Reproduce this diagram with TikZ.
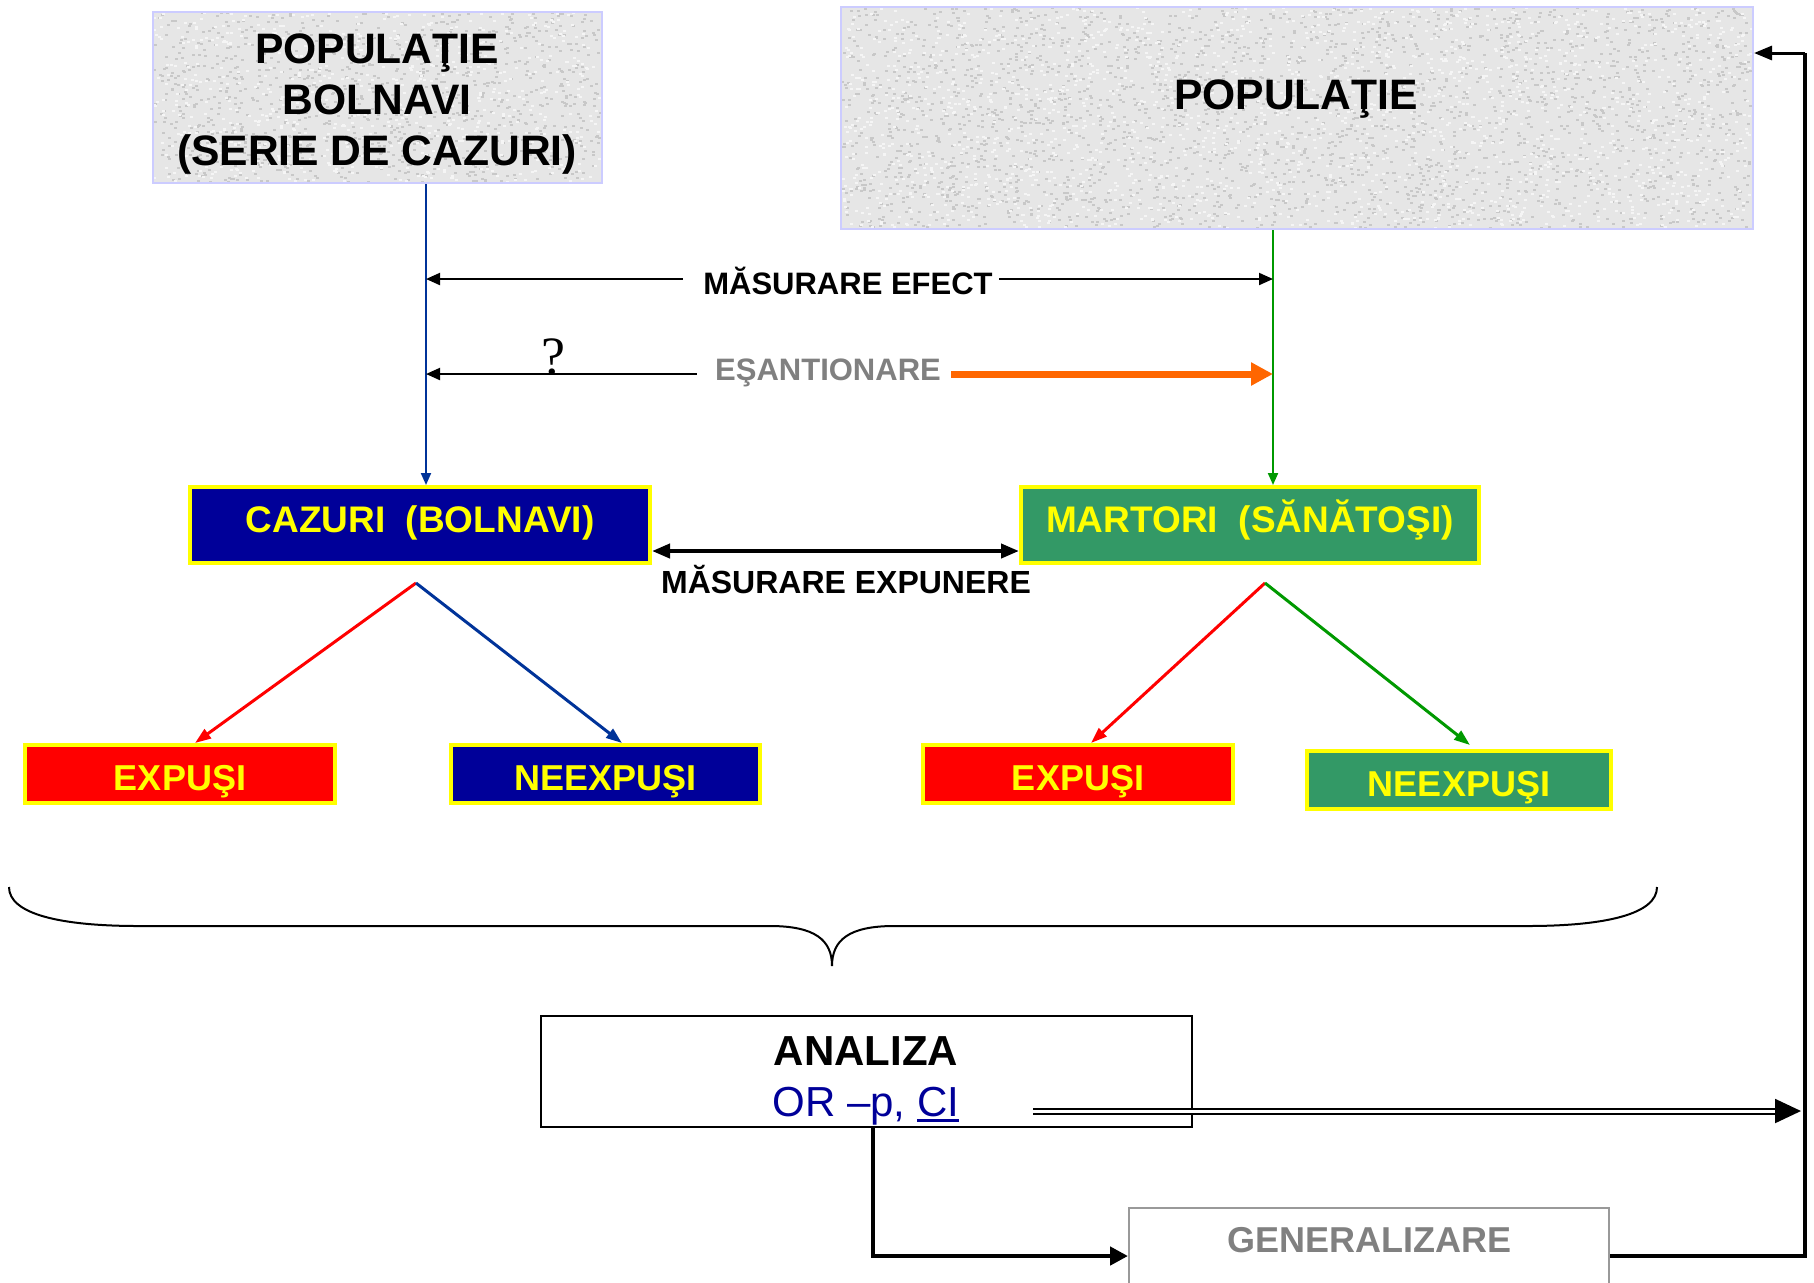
\documentclass[tikz,border=0pt]{standalone}
\usepackage{fontspec}
\setmainfont{Liberation Sans}
\newfontfamily\qfont{Liberation Serif}
\usetikzlibrary{arrows.meta,calc}

\definecolor{cazblue}{RGB}{0,0,153}
\definecolor{lineblue}{RGB}{0,51,153}
\definecolor{martgreen}{RGB}{51,153,102}
\definecolor{linegreen}{RGB}{0,153,0}
\definecolor{hiyellow}{RGB}{255,255,0}
\definecolor{sampleorange}{RGB}{255,102,0}
\definecolor{softgray}{RGB}{128,128,128}
\definecolor{popedge}{RGB}{204,204,255}
\definecolor{popfill}{RGB}{230,230,230}
\definecolor{popspeck}{RGB}{200,200,200}
\definecolor{poplight}{RGB}{245,245,245}
\definecolor{genedge}{RGB}{153,153,153}

% thick underline for the CI link
\newcommand\ciline[1]{\setbox0\hbox{#1}\rlap{\rule[-3pt]{\wd0}{1.6pt}}\box0}

\tikzset{
  popbox/.style={draw=popedge, line width=1pt, inner sep=0pt},
  poptext/.style={font=\bfseries\fontsize{21.3}{25.3}\selectfont, align=center, inner sep=0pt},
  hibox/.style={draw=hiyellow, line width=2pt, text=hiyellow, inner sep=0pt,
                font=\bfseries\fontsize{18.5}{22}\selectfont,
                text height=13pt, text depth=5.6pt},
  smallbox/.style={draw=hiyellow, line width=2pt, text=hiyellow, inner sep=0pt,
                font=\bfseries\fontsize{18}{22}\selectfont,
                text height=17pt, text depth=0.6pt},
  midlabel/.style={font=\bfseries\fontsize{15.5}{18}\selectfont, inner sep=0pt},
  arrowtip/.style={-{Triangle[length=7pt,width=6pt]}},
  diag/.style={line width=1.5pt, -{Triangle[length=8pt,width=5.5pt]}},
  flow/.style={line width=2.25pt},
}

\begin{document}
\begin{tikzpicture}[x=0.5pt,y=-0.5pt]
\useasboundingbox (0,0) rectangle (1814,1282);

% granite-like fill of the two population boxes
\pgfmathsetseed{4242}
\fill[popfill] (153,12) rectangle (602,183);
\foreach \i in {1,...,1000} \fill[popspeck] ({153+446*rnd},{12+169*rnd}) rectangle ++(3,2);
\foreach \i in {1,...,700} \fill[poplight] ({153+446*rnd},{12+169*rnd}) rectangle ++(3,2);
\fill[popfill] (841,7) rectangle (1753,229);
\foreach \i in {1,...,2600} \fill[popspeck] ({841+909*rnd},{7+220*rnd}) rectangle ++(3,2);
\foreach \i in {1,...,1900} \fill[poplight] ({841+909*rnd},{7+220*rnd}) rectangle ++(3,2);

% population boxes
\node[popbox, minimum width=224.5pt, minimum height=85.5pt] (pop1) at (377.5,97.5) {};
\node[poptext] (pop1label) at (377,104) {POPULAŢIE\\BOLNAVI\\(SERIE DE CAZURI)};
\node[popbox, minimum width=456pt, minimum height=111pt] (pop2) at (1297,118) {};
\node[poptext] (pop2label) at (1296,99) {POPULAŢIE};

% cases and controls
\node[hibox, fill=cazblue, minimum width=230pt, minimum height=38pt] (caz) at (420,525) {CAZURI\ \ (BOLNAVI)};
\node[hibox, fill=martgreen, minimum width=229pt, minimum height=38pt] (mar) at (1250,525) {MARTORI\ \ (SĂNĂTOŞI)};

% exposure groups
\node[smallbox, fill=red, minimum width=155pt, minimum height=29pt] (exp1) at (180,774) {EXPUŞI};
\node[smallbox, fill=cazblue, minimum width=154.5pt, minimum height=29pt] (nex1) at (605.5,774) {NEEXPUŞI};
\node[smallbox, fill=red, minimum width=155pt, minimum height=29pt] (exp2) at (1078,774) {EXPUŞI};
\node[smallbox, fill=martgreen, minimum width=152pt, minimum height=29pt] (nex2) at (1459,780) {NEEXPUŞI};

% vertical guides from the populations
\coordinate (bl) at (426,0);
\coordinate (gl) at (1273,0);
\draw[lineblue, line width=1pt, -{Triangle[length=6pt,width=5pt]}] (pop1.south -| bl) -- (caz.north -| bl);
\draw[linegreen, line width=1pt, -{Triangle[length=6pt,width=5pt]}] (pop2.south -| gl) -- (mar.north -| gl);

% effect measurement
\coordinate (ef) at (0,279);
\node[midlabel] (efect) at (848,281) {MĂSURARE EFECT};
\draw[line width=1pt, arrowtip] ([xshift=-10pt]efect.west |- ef) -- (bl |- ef);
\draw[line width=1pt, arrowtip] ([xshift=3pt]efect.east |- ef) -- (gl |- ef);

% sampling
\coordinate (es) at (0,374);
\node[midlabel, text=softgray] (esant) at (828,373) {EŞANTIONARE};
\draw[line width=1pt, arrowtip] ([xshift=-9pt]esant.west |- es) -- (bl |- es);
\draw[sampleorange, line width=3.5pt, -{Triangle[length=11pt,width=11pt]}] ([xshift=5pt]esant.east |- es) -- (gl |- es);
\node[font=\qfont\fontsize{27}{30}\selectfont, anchor=base, inner sep=0pt] (qmark) at (553,374) {?};

% exposure measurement
\coordinate (ex) at (0,551);
\draw[line width=2pt, {Triangle[length=9pt,width=7pt]}-{Triangle[length=9pt,width=7pt]}] (caz.east |- ex) -- (mar.west |- ex);
\node[midlabel, font=\bfseries\fontsize{16}{18}\selectfont] (expun) at (846,580) {MĂSURARE EXPUNERE};

% split of each group by exposure
\coordinate (capex) at (416,583);
\coordinate (mapex) at (1265,583);
\coordinate (t1) at (195,0);
\coordinate (t2) at (622,0);
\coordinate (t3) at (1091,0);
\coordinate (t4) at (1470,745);
\draw[diag, red] (capex) -- (exp1.north -| t1);
\draw[diag, lineblue] (capex) -- (nex1.north -| t2);
\draw[diag, red] (mapex) -- (exp2.north -| t3);
\draw[diag, linegreen] (mapex) -- (t4);

% brace gathering all four groups
\draw[line width=1pt] (9,887) .. controls (9,914) and (60,926) .. (139,926)
  -- (770,926) .. controls (815,926) and (832,940) .. (832,966)
  .. controls (832,940) and (849,926) .. (894,926)
  -- (1527,926) .. controls (1606,926) and (1657,914) .. (1657,887);

% analysis
\node[draw, line width=1pt, minimum width=325.5pt, minimum height=55.5pt, inner sep=0pt] (ana) at (866.5,1071) {};
\node[font=\bfseries\fontsize{21}{24}\selectfont, inner sep=0pt] (anatitle) at (866,1051) {ANALIZA};
\node[font=\fontsize{21}{24}\selectfont, text=cazblue, inner sep=0pt, anchor=base] (anaor) at (866,1116) {OR –p, \ciline{CI}};

% generalisation
\node[draw=genedge, line width=1pt, minimum width=240pt, minimum height=48pt, inner sep=0pt, anchor=north] (gen) at (1369,1207) {};
\node[font=\bfseries\fontsize{18}{22}\selectfont, text=softgray, inner sep=0pt] (gentext) at (1369,1240) {GENERALIZARE};

% result flows
\coordinate (ax) at (873,0);
\coordinate (ds) at (1033,1111);
\coordinate (rc) at (1805,53);
\draw[line width=1pt, double, double distance=1.5pt, -{Triangle[length=13pt,width=12pt]}] (ds) -- ([xshift=-2pt]rc |- ds);
\draw[flow, -{Triangle[length=9pt,width=9pt]}] (ana.south -| ax) |- (gen.west);
\draw[flow] (gen.east) -| (rc);
\draw[line width=1.5pt, -{Triangle[length=9pt,width=7pt]}] (rc) -- (pop2.east |- rc);
\end{tikzpicture}
\end{document}
